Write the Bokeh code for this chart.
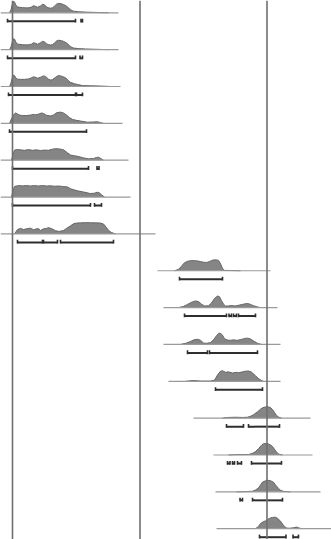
from bokeh.plotting import figure
from bokeh.models import Range1d, Span
from bokeh.embed import file_html
from bokeh.resources import INLINE

# ---------------- data ----------------
# vertical reference lines (x positions on the date scale)
event_x = [12, 139.5, 266.5]

# extent of each distribution's base line
line_start = [0, 0, 0, 0, 0, 0, 0, 157, 163, 163, 168, 193, 213, 215, 216]
line_end = [118, 118, 120, 122, 128, 130, 155, 270, 277, 280, 280, 310, 312, 320, 331]

# probability density curves (x, relative probability)
density_x = [
    [9, 10.5, 12, 13, 14, 15.5, 17, 19, 22, 25, 28, 31, 33, 35, 37, 40, 42, 44, 46, 48, 50, 52, 54, 56, 58, 61, 63, 66, 68, 70, 73, 78, 85, 92, 100, 108],
    [9, 10.5, 12, 13, 14, 15.5, 17, 19, 22, 25, 28, 31, 33, 35, 37, 40, 42, 44, 46, 48, 50, 52, 54, 56, 58, 61, 63, 66, 68, 70, 73, 78, 85, 92, 100, 108],
    [9, 10.5, 12, 13, 14, 15.5, 17, 20, 24, 28, 31, 33, 35, 37, 40, 43, 45, 48, 50, 52, 55, 58, 61, 65, 68, 70, 74, 77, 82, 90, 100, 110],
    [9, 11, 13, 15, 17, 19, 22, 26, 30, 33, 35, 38, 41, 43, 46, 50, 53, 56, 60, 63, 66, 69, 72, 76, 80, 87, 93, 97, 100, 103],
    [11, 12.5, 14, 17, 20, 24, 28, 32, 36, 40, 44, 48, 52, 55, 59, 63, 67, 70, 74, 77, 83, 88, 93, 96, 98, 100, 103],
    [11, 12.5, 14, 18, 22, 26, 30, 34, 38, 42, 46, 50, 54, 58, 62, 67, 70, 74, 77, 83, 90, 94, 97, 99, 101, 104],
    [14, 17, 20, 23, 26, 30, 33, 35, 38, 40, 43, 46, 48, 52, 55, 58, 60, 63, 66, 70, 73, 76, 80, 85, 90, 95, 100, 103, 106, 108, 111, 115],
    [174, 178, 181, 184, 187, 190, 194, 197, 200, 203, 206, 209, 212, 215, 218, 220, 222, 224, 230, 240],
    [178, 183, 187, 191, 195, 198, 201, 204, 208, 211, 214, 217, 219, 221, 223, 225, 228, 230, 233, 235, 238, 241, 244, 247, 250, 253, 257, 260],
    [180, 186, 190, 194, 197, 200, 203, 206, 210, 213, 216, 218, 220, 222, 224, 227, 230, 233, 236, 238, 241, 244, 247, 250, 253, 257, 261],
    [185, 193, 200, 210, 214, 217, 220, 222, 225, 228, 232, 236, 238, 242, 245, 248, 251, 255, 258, 261, 263],
    [222, 228, 235, 242, 247, 250, 253, 257, 260, 262, 265, 267, 270, 272, 274, 276, 278, 281],
    [228, 235, 242, 248, 252, 255, 258, 261, 263, 266, 268, 271, 273, 275, 277, 279, 282],
    [236, 245, 252, 255, 258, 260, 262, 265, 268, 270, 273, 275, 278, 280, 283, 290],
    [255, 258, 260, 263, 265, 267, 270, 272, 275, 277, 280, 282, 284, 286, 289, 293, 296, 298, 301],
]
density_p = [
    [0, 0.27, 0.8, 1.0, 0.95, 0.64, 0.52, 0.48, 0.45, 0.43, 0.43, 0.5, 0.62, 0.56, 0.48, 0.6, 0.74, 0.7, 0.5, 0.44, 0.4, 0.44, 0.58, 0.75, 0.82, 0.78, 0.72, 0.58, 0.44, 0.26, 0.14, 0.09, 0.06, 0.04, 0.02, 0],
    [0, 0.25, 0.75, 0.95, 0.92, 0.62, 0.5, 0.46, 0.43, 0.42, 0.42, 0.48, 0.6, 0.55, 0.47, 0.6, 0.72, 0.68, 0.5, 0.44, 0.4, 0.44, 0.58, 0.75, 0.82, 0.78, 0.72, 0.58, 0.44, 0.26, 0.14, 0.09, 0.06, 0.04, 0.02, 0],
    [0, 0.3, 0.85, 1.0, 0.95, 0.72, 0.64, 0.62, 0.62, 0.66, 0.76, 0.84, 0.8, 0.72, 0.8, 0.92, 0.88, 0.64, 0.56, 0.6, 0.8, 0.96, 0.9, 0.76, 0.5, 0.36, 0.24, 0.18, 0.08, 0.06, 0.04, 0],
    [0, 0.4, 0.75, 0.9, 0.82, 0.72, 0.68, 0.68, 0.72, 0.78, 0.74, 0.8, 0.9, 0.86, 0.7, 0.64, 0.72, 0.92, 0.98, 0.9, 0.72, 0.5, 0.34, 0.26, 0.2, 0.1, 0.12, 0.14, 0.06, 0],
    [0, 0.5, 0.88, 0.93, 0.9, 0.86, 0.92, 0.86, 0.9, 0.84, 0.88, 0.86, 0.96, 1.0, 0.98, 0.9, 0.64, 0.45, 0.38, 0.34, 0.2, 0.12, 0.14, 0.24, 0.26, 0.16, 0],
    [0, 0.55, 0.92, 1.0, 0.97, 1.0, 0.96, 1.0, 0.96, 1.0, 0.96, 0.98, 0.94, 0.96, 0.92, 0.88, 0.72, 0.62, 0.54, 0.44, 0.3, 0.34, 0.42, 0.36, 0.2, 0],
    [0, 0.38, 0.48, 0.38, 0.44, 0.5, 0.36, 0.42, 0.46, 0.3, 0.44, 0.48, 0.55, 0.42, 0.28, 0.22, 0.24, 0.3, 0.48, 0.7, 0.88, 0.94, 0.96, 0.98, 0.97, 0.96, 0.94, 0.86, 0.55, 0.3, 0.12, 0],
    [0, 0.12, 0.4, 0.7, 0.82, 0.88, 0.88, 0.85, 0.8, 0.74, 0.72, 0.8, 0.92, 0.96, 0.9, 0.62, 0.2, 0.03, 0.02, 0],
    [0, 0.1, 0.28, 0.46, 0.58, 0.52, 0.3, 0.14, 0.16, 0.4, 0.8, 1.0, 0.95, 0.6, 0.3, 0.14, 0.14, 0.18, 0.16, 0.14, 0.2, 0.26, 0.32, 0.36, 0.28, 0.16, 0.06, 0],
    [0, 0.12, 0.26, 0.42, 0.45, 0.36, 0.12, 0.1, 0.16, 0.4, 0.76, 0.96, 0.98, 0.8, 0.5, 0.38, 0.36, 0.4, 0.36, 0.38, 0.44, 0.52, 0.55, 0.48, 0.3, 0.1, 0],
    [0, 0.07, 0.02, 0.02, 0.1, 0.55, 0.88, 0.92, 0.78, 0.82, 0.72, 0.78, 0.74, 0.82, 0.88, 0.9, 0.8, 0.48, 0.24, 0.06, 0],
    [0, 0.06, 0.08, 0.06, 0.08, 0.16, 0.3, 0.55, 0.78, 0.9, 0.98, 1.0, 0.92, 0.75, 0.5, 0.24, 0.1, 0],
    [0, 0.03, 0.03, 0.04, 0.14, 0.3, 0.55, 0.85, 0.98, 1.0, 0.96, 0.82, 0.62, 0.36, 0.16, 0.05, 0],
    [0, 0.02, 0.05, 0.16, 0.34, 0.6, 0.85, 0.96, 1.0, 0.97, 0.84, 0.6, 0.3, 0.14, 0.04, 0],
    [0, 0.2, 0.45, 0.62, 0.68, 0.8, 0.94, 0.98, 1.0, 0.9, 0.66, 0.4, 0.2, 0.06, 0.04, 0.08, 0.14, 0.08, 0],
]

# highest probability density ranges (start, end) per distribution
range_start = [
    [7, 80.5], [7, 79.5], [8, 76], [9], [12, 96.5], [12, 94],
    [17, 43, 60], [179], [184, 228.5, 233, 238], [187, 209], [215],
    [226, 248], [227, 232, 237, 251], [239.5, 252], [259, 292.5],
]
range_end = [
    [75, 82], [75, 82], [75, 82], [86], [88, 98.5], [90, 101],
    [42, 57, 113], [222], [226, 231, 236, 255], [207, 257], [262],
    [243, 279], [229.5, 234, 241, 281], [242, 282], [285.5, 298],
]

# ---------------- layout ----------------
ROW0 = 12.3      # first base line
ROW_STEP = 36.85  # distance between rows
PEAK = 11.5      # height of a density of 1
BAR_OFF = 8.5    # range bars below base line

p = figure(width=331, height=539, output_backend="svg", toolbar_location=None,
           x_range=Range1d(0, 331), y_range=Range1d(539, 0),
           min_border=0, background_fill_color="white", border_fill_color="white",
           outline_line_color=None)
p.axis.visible = False
p.grid.visible = False

for xv in event_x:
    p.add_layout(Span(location=xv, dimension="height", line_color="#6f6f6f", line_width=1.6))

for i in range(len(line_start)):
    base = ROW0 + i * ROW_STEP
    xs = density_x[i]
    tops = [base - v * PEAK for v in density_p[i]]
    p.varea(x=xs, y1=[base] * len(xs), y2=tops, fill_color="#858585")
    p.line(xs, tops, line_color="#666666", line_width=1)
    p.segment(x0=[line_start[i]], y0=[base], x1=[line_end[i]], y1=[base],
              line_color="#9a9a9a", line_width=1.2)
    by = base + BAR_OFF
    n = len(range_start[i])
    p.segment(x0=range_start[i], y0=[by] * n, x1=range_end[i], y1=[by] * n,
              line_color="#2e2e2e", line_width=2)
    caps_x = range_start[i] + range_end[i]
    m = len(caps_x)
    p.segment(x0=caps_x, y0=[by - 2.6] * m, x1=caps_x, y1=[by + 1.2] * m,
              line_color="#2e2e2e", line_width=1.6)

open("out.html", "w").write(file_html(p, INLINE))
